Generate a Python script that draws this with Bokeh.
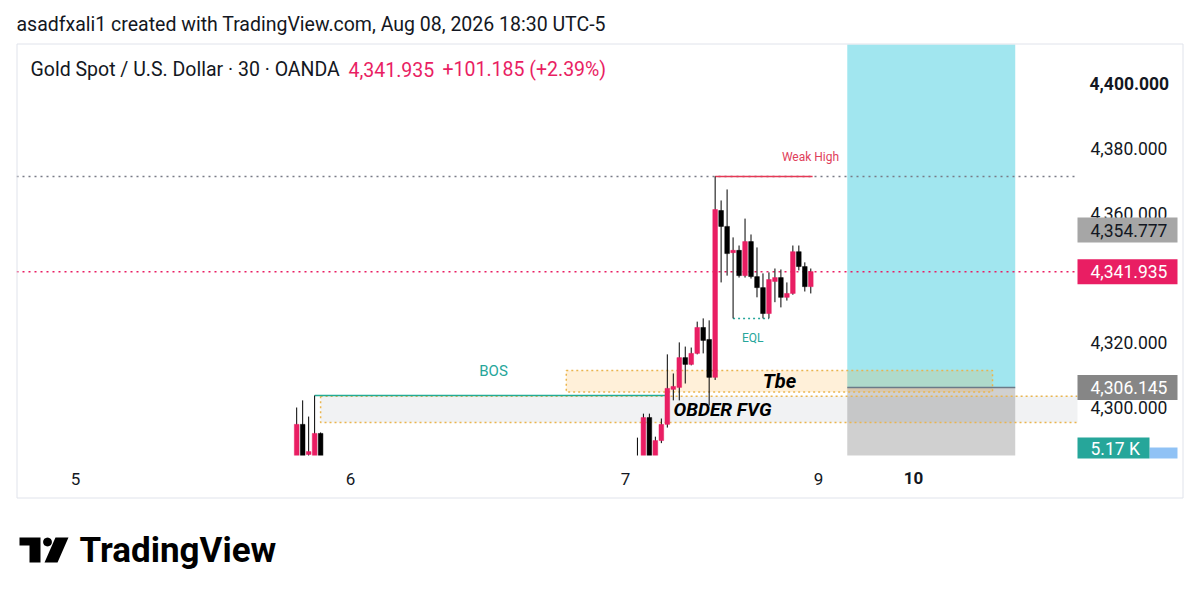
import numpy as np
from bokeh.plotting import figure
from bokeh.models import (Range1d, FixedTicker, NumeralTickFormatter, Label,
                          PolyAnnotation, BoxAnnotation, ColumnDataSource)
from bokeh.embed import file_html
from bokeh.resources import INLINE

# ---------------- data ----------------
bar_idx = [37, 38, 39, 40, 41,
           94, 95, 96, 97, 98, 99, 100, 101, 102, 103, 104, 105, 106, 107,
           108, 109, 110, 111, 112, 113, 114, 115, 116, 117, 118, 119, 120,
           121, 122, 123]
opens = [4280.0, 4294.8, 4285.5, 4282.0, 4292.0,
         4279.0, 4282.0, 4296.9, 4284.5, 4289.8, 4294.8, 4305.6, 4306.2, 4315.4,
         4313.3, 4316.7, 4324.7, 4321.0, 4309.3,
         4360.8, 4355.9, 4347.8, 4348.5, 4340.7, 4351.2, 4340.4, 4337.0, 4329.0,
         4338.9, 4340.1, 4334.0, 4335.2, 4348.1, 4343.5, 4337.3]
highs = [4300.0, 4302.2, 4297.2, 4303.7, 4292.3,
         4290.7, 4298.1, 4298.1, 4291.0, 4296.6, 4316.4, 4310.5, 4320.1, 4318.8,
         4318.5, 4326.5, 4327.5, 4326.9, 4371.3,
         4363.9, 4367.3, 4352.5, 4350.0, 4358.3, 4353.4, 4349.4, 4341.4, 4341.7,
         4342.9, 4342.6, 4338.6, 4350.0, 4350.0, 4344.8, 4342.9]
lows = [4278.0, 4279.0, 4284.0, 4280.0, 4279.0,
        4277.0, 4280.0, 4281.0, 4283.5, 4289.0, 4293.8, 4302.2, 4302.2, 4307.4,
        4313.0, 4316.4, 4316.7, 4300.6, 4308.5,
        4338.6, 4340.7, 4327.5, 4340.1, 4340.1, 4339.8, 4334.0, 4327.5, 4327.5,
        4332.5, 4330.9, 4333.0, 4334.8, 4342.3, 4335.8, 4335.2]
closes = [4294.8, 4281.0, 4286.4, 4292.0, 4281.0,
          4283.0, 4296.9, 4283.0, 4289.8, 4294.8, 4305.9, 4306.5, 4315.4, 4313.3,
          4316.7, 4324.7, 4320.7, 4309.3, 4361.1,
          4355.9, 4347.5, 4348.5, 4340.7, 4351.2, 4340.4, 4337.0, 4329.0, 4339.5,
          4340.1, 4334.0, 4335.2, 4348.1, 4343.5, 4337.3, 4341.935]

day_ticks = [0, 46, 92, 124.3]
day_labels = ["5", "6", "7", "9"]
bold_day_tick = 140.2
bold_day_label = "10"
price_ticks = [4300, 4320, 4360, 4380]
bold_price_tick = 4400

symbol_text = "Gold Spot / U.S. Dollar \u00b7 30 \u00b7 OANDA"
last_price = 4341.935
change = 101.185
change_pct = 2.39
header_text = "asadfxali1 created with TradingView.com, Aug 08, 2026 18:30 UTC-5"

weak_high = 4371.3
weak_high_span = (107, 123.3)
eql_level = 4327.5
eql_span = (110, 116)
bos_level = 4303.7
bos_span = (40, 98.7)
tbe_zone = (4304.8, 4311.4)
tbe_span = (82.1, 153.4)
fvg_zone = (4295.4, 4303.5)
fvg_start = 41
pos_entry = 4306.145
pos_target = 4416.0
pos_stop = 4272.0
pos_span = (129.1, 157.2)
marker_price = 4354.777
volume_text = "5.17 K"

# ---------------- layout calibration (canvas pixels -> data) ----------------
PX0, PXB = 75.0, 5.978      # canvas x of bar 0, px per bar
PY0, PYU = 83.0, 3.24       # canvas y of 4400, px per price unit
CW, CH = 1191, 590          # canvas size
PANE_L, PANE_R, PANE_T, PANE_B = 16, 1077, 44, 455   # price pane (page px)


def X(px):
    return (px - PX0) / PXB


def Y(py):
    return 4400.0 - (py - PY0) / PYU


PINK = "#e91e63"
INK = "#131722"
FONT = "Roboto"

p = figure(frame_width=CW, frame_height=CH,
           x_range=Range1d(X(0), X(CW)), y_range=Range1d(Y(CH), Y(0)),
           y_axis_location="right", toolbar_location=None, output_backend="svg",
           min_border=0, background_fill_color="white",
           border_fill_color="white", outline_line_color=None)
p.grid.visible = False

ya = p.yaxis[0]
ya.fixed_location = X(PANE_R)
ya.ticker = FixedTicker(ticks=price_ticks)
ya.formatter = NumeralTickFormatter(format="0,0.000")
ya.axis_line_color = None
ya.major_tick_line_color = None
ya.minor_tick_line_color = None
ya.major_label_standoff = 7
ya.major_label_text_font = FONT
ya.major_label_text_font_size = "17.5px"
ya.major_label_text_color = INK

xa = p.xaxis[0]
xa.fixed_location = Y(PANE_B)
xa.ticker = FixedTicker(ticks=day_ticks)
xa.major_label_overrides = {t: l for t, l in zip(day_ticks, day_labels)}
xa.axis_line_color = None
xa.major_tick_line_color = None
xa.minor_tick_line_color = None
xa.major_label_standoff = 11
xa.major_label_text_font = FONT
xa.major_label_text_font_size = "17px"
xa.major_label_text_color = INK

xl, xr = X(PANE_L), X(PANE_R)

# ---- long position tool ----
p.quad(left=[pos_span[0]], right=[pos_span[1]], bottom=[pos_entry], top=[pos_target],
       fill_color="#00bcd4", fill_alpha=0.37, line_color=None)
p.quad(left=[pos_span[0]], right=[pos_span[1]], bottom=[pos_stop], top=[pos_entry],
       fill_color="#808080", fill_alpha=0.37, line_color=None)

# ---- FVG zone ----
p.quad(left=[fvg_start], right=[xr + 3], bottom=[fvg_zone[0]], top=[fvg_zone[1]],
       fill_color="#787b86", fill_alpha=0.1, line_color="#eab54e",
       line_dash="2 3", line_width=1.5)
# ---- Tbe zone ----
p.quad(left=[tbe_span[0]], right=[tbe_span[1]], bottom=[tbe_zone[0]], top=[tbe_zone[1]],
       fill_color="#ff9800", fill_alpha=0.15, line_color="#eab54e",
       line_dash="2 3", line_width=1.5)

# entry line
p.line([pos_span[0], pos_span[1]], [pos_entry, pos_entry], line_color="#6b7a88",
       line_width=1.5)

# BOS line
p.line([bos_span[0], bos_span[1]], [bos_level, bos_level], line_color="#22ab94",
       line_width=1.3)

# dotted levels
p.line([xl, xr], [weak_high, weak_high], line_color="#787b86", line_width=1.5,
       line_dash="2 4")
p.line([xl, xr], [last_price, last_price], line_color=PINK, line_width=1.5,
       line_dash="2 4")
p.line([eql_span[0], eql_span[1]], [eql_level, eql_level], line_color="#26a69a",
       line_width=1.5, line_dash="2 3")
# weak high line
p.line([weak_high_span[0], weak_high_span[1]], [weak_high, weak_high],
       line_color="#e63956", line_width=1.5)

# ---- candles ----
o = np.array(opens)
c = np.array(closes)
colors = [PINK if cc >= oo else "#000000" for oo, cc in zip(o, c)]
src = ColumnDataSource(dict(x=bar_idx, top=np.maximum(o, c), bottom=np.minimum(o, c),
                            high=highs, low=lows, color=colors))
p.segment(x0="x", y0="low", x1="x", y1="high", line_color="#000000", line_width=1,
          source=src)
p.vbar(x="x", width=0.78, top="top", bottom="bottom", fill_color="color",
       line_color="color", line_width=0.5, source=src)

# ---- masks outside the price pane (pane clipping) ----
for (a, b, t, u) in [(-20, CW + 20, -40, PANE_T), (-20, CW + 20, PANE_B, 512),
                     (PANE_R, CW + 20, PANE_T, PANE_B), (-20, PANE_L, -40, CH + 20)]:
    p.quad(left=[X(a)], right=[X(b)], top=[Y(t)], bottom=[Y(u)],
           fill_color="white", line_color=None)

# panel border
p.quad(left=[X(16.5)], right=[X(1182.5)], top=[Y(43.5)], bottom=[Y(497.5)],
       fill_color=None, line_color="#e0e3eb", line_width=1)


def label_xy(text, x, y, size, color, align="left", style="normal", baseline="middle"):
    p.add_layout(Label(x=x, y=y, text=text, text_align=align,
                       text_baseline=baseline, text_font=FONT,
                       text_font_size=f"{size}px", text_color=color,
                       text_font_style=style))


def label(text, px, py, size, color, align="left", style="normal", baseline="middle"):
    label_xy(text, X(px), Y(py), size, color, align, style, baseline)


def box(x0, x1, y0, y1, fill):
    p.add_layout(BoxAnnotation(left=x0, right=x1, top=y0, bottom=y1,
                               fill_color=fill, fill_alpha=1, line_color=None,
                               level="annotation"))


# chart texts
label_xy("Weak High", X(810), Y(156), 12, "#e0405a", align="center")
label_xy("EQL", (eql_span[0] + eql_span[1]) / 2 + 0.3, Y(337), 12, "#26a69a", align="center")
label_xy("BOS", X(493), Y(370), 15, "#26a69a", align="center")
label_xy("Tbe", X(779), (tbe_zone[0] + tbe_zone[1]) / 2, 20, "#000000",
         align="center", style="bold italic")
label_xy("OBDER FVG", X(722), (fvg_zone[0] + fvg_zone[1]) / 2, 19, "#000000",
         align="center", style="bold italic")

# header and legend
label(header_text, 16, 24, 19.5, INK)
label(symbol_text, 30, 69, 19.5, INK)
label(f"{last_price:,.3f}", 348, 69, 19.5, PINK)
label(f"+{change:,.3f} (+{change_pct:.2f}%)", 442, 69, 19.5, PINK)

# price scale extras
label_xy(f"{bold_price_tick:,.3f}", X(1089), bold_price_tick, 17.5, INK, style="bold")
label_xy(bold_day_label, bold_day_tick, Y(477), 17, INK, align="center", style="bold")

H = 12.5 / PYU
for price, fill, tcol in [(marker_price, "#a6a6a6", INK),
                          (last_price, PINK, "#ffffff"),
                          (pos_entry, "#868686", "#ffffff")]:
    box(X(PANE_R), X(1177), price + H, price - H, fill)
    label_xy(f"{price:,.3f}", X(1090), price, 17.5, tcol)

box(X(1149), X(1177), Y(447), Y(458), "#90c2f5")
box(X(PANE_R), X(1149), Y(437), Y(458), "#26a69a")
label(volume_text, 1090, 448, 17.5, "#ffffff")

# TradingView logo
p.add_layout(PolyAnnotation(xs=[X(19), X(40), X(40), X(29), X(29), X(19)],
                            ys=[Y(537), Y(537), Y(562), Y(562), Y(545), Y(545)],
                            fill_color="#000000", fill_alpha=1, line_color=None))
th = np.linspace(0, 2 * np.pi, 40)
p.add_layout(PolyAnnotation(xs=list(X(47 + 4.4 * np.cos(th))),
                            ys=list(Y(541.5 + 4.4 * np.sin(th))),
                            fill_color="#000000", fill_alpha=1, line_color=None))
p.add_layout(PolyAnnotation(xs=[X(55), X(68), X(57), X(44)],
                            ys=[Y(537), Y(537), Y(562), Y(562)],
                            fill_color="#000000", fill_alpha=1, line_color=None))
label("TradingView", 79, 550, 35, "#000000", style="bold")

open("out.html", "w").write(file_html(p, INLINE))
